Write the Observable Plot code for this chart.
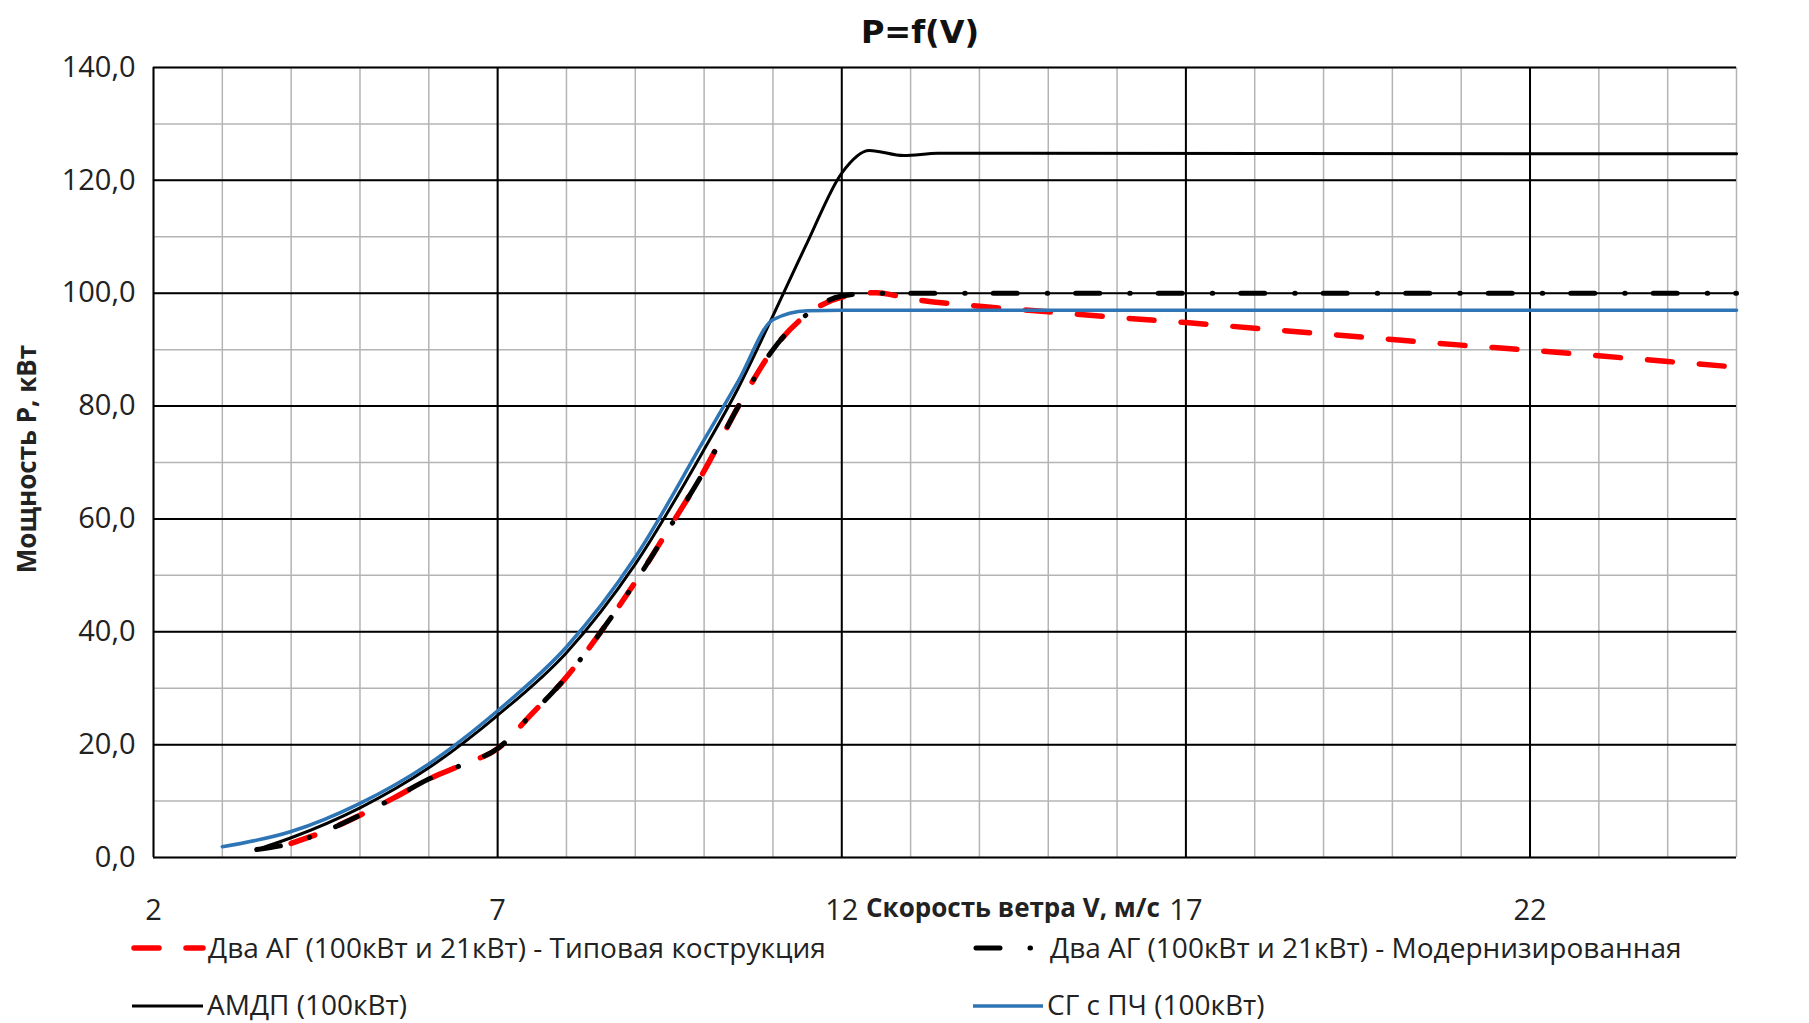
<!DOCTYPE html>
<html>
<head>
<meta charset="utf-8">
<script src="https://cdn.jsdelivr.net/npm/d3@7"></script>
<script src="https://cdn.jsdelivr.net/npm/@observablehq/plot@0.6"></script>
<style>
  html, body { margin: 0; padding: 0; background: #fff; }
  #wrap { position: relative; width: 1809px; height: 1023px; overflow: hidden; background: #fff; }
  #wrap svg.plot { position: absolute; left: 0; top: 0; }
  .abs { position: absolute; white-space: nowrap; color: #222; }
  #title { font-family: "DejaVu Sans", sans-serif; font-weight: bold; font-size: 32px; line-height: 40px; left: 920px; top: 12px; transform: translateX(-50%); color: #111; }
  #xtitle { font-family: "Open Sans", sans-serif; font-weight: bold; font-size: 26px; line-height: 30px; left: 866px; top: 892px; }
  #ytitle { font-family: "Open Sans", sans-serif; font-weight: bold; font-size: 26px; line-height: 30px; left: 26px; top: 459px; transform: translate(-50%, -50%) rotate(-90deg); }
  .leg { font-family: "Open Sans", sans-serif; font-size: 28px; line-height: 30px; }
  .sw { position: absolute; overflow: visible; }
</style>
</head>
<body>
<div id="wrap"></div>
<script>
// ---- data ----
const titleText = "P=f(V)";
const xTitle = "Скорость ветра V, м/с";
const yTitle = "Мощность P, кВт";

const seriesNames = [
  "Два АГ (100кВт и 21кВт) - Типовая кострукция",
  "Два АГ (100кВт и 21кВт) - Модернизированная",
  "АМДП (100кВт)",
  "СГ с ПЧ (100кВт)"
];

const xTickValues = [2, 7, 12, 17, 22];
const yTickValues = [0, 20, 40, 60, 80, 100, 120, 140];
const xMinorValues = [2,3,4,5,6,7,8,9,10,11,12,13,14,15,16,17,18,19,20,21,22,23,24,25];
const yMinorValues = [0,10,20,30,40,50,60,70,80,90,100,110,120,130,140];

// Two AG - typical design (red dashed)
const vTypical = [4,4.5,5,5.5,6,6.5,7,7.5,8,8.5,9,9.5,10,10.5,11,11.5,12,12.5,13,14,15,16,17,18,19,20,21,22,23,24,25];
const pTypical = [2.5,4.7,7.5,10.6,13.9,16.5,19.3,25.5,32,40,48.8,58.5,68.5,80,90,96.3,99.3,100.1,99.0,97.7,96.7,95.7,94.8,93.8,92.8,91.8,90.8,89.9,88.9,87.9,86.9];

// Two AG - modernized (black dash-dot)
const vModern = [3.5,4,4.5,5,5.5,6,6.5,7,7.5,8,8.5,9,9.5,10,10.5,11,11.5,12,12.5,25];
const pModern = [1.4,2.5,4.7,7.5,10.6,13.9,16.5,19.3,25.5,32,40,48.8,58.5,68.5,80,90,96.3,99.5,100,100];

// AMDP (black solid)
const vAmdp = [3.5,4,5,6,7,8,9,10,10.5,11,11.5,12,12.4,12.9,13.4,25];
const pAmdp = [1.4,3.5,8.8,15.9,25.2,36.3,52.0,72.3,83.3,96.0,109.0,121.3,125.3,124.4,124.8,124.7];

// SG with frequency converter (blue)
const vSg = [3,4,5,6,7,8,9,10,10.5,11,11.5,12,25];
const pSg = [1.9,4.6,9.6,16.6,26.0,37.3,53.2,74.0,84.5,95.3,96.9,97.0,97.0];

// ---- styles ----
const styles = [
  {stroke: "#ff0000", strokeWidth: 5.5, strokeDasharray: "25 27", strokeLinecap: "round"},
  {stroke: "#000000", strokeWidth: 5, strokeDasharray: "24 30 0.5 28", strokeLinecap: "round"},
  {stroke: "#000000", strokeWidth: 3},
  {stroke: "#2e75b6", strokeWidth: 3.5}
];

const toRows = (vs, ps, name) => vs.map((v, i) => ({v, p: ps[i], series: name}));
const tables = [
  toRows(vTypical, pTypical, seriesNames[0]),
  toRows(vModern, pModern, seriesNames[1]),
  toRows(vAmdp, pAmdp, seriesNames[2]),
  toRows(vSg, pSg, seriesNames[3])
];

const fmt = d => d.toFixed(1).replace(".", ",");

const chart = Plot.plot({
  width: 1809,
  height: 930,
  marginLeft: 153,
  marginRight: 73,
  marginTop: 67,
  marginBottom: 73,
  style: {fontFamily: "'Open Sans', sans-serif", fontSize: "29px", color: "#222", background: "transparent", overflow: "visible"},
  x: {domain: [2, 25]},
  y: {domain: [0, 140]},
  marks: [
    Plot.gridX(xMinorValues, {stroke: "#b4b4b4", strokeWidth: 1.5, strokeOpacity: 1}),
    Plot.gridY(yMinorValues, {stroke: "#b4b4b4", strokeWidth: 1.5, strokeOpacity: 1}),
    Plot.gridX(xTickValues, {stroke: "#000", strokeWidth: 2, strokeOpacity: 1}),
    Plot.gridY(yTickValues, {stroke: "#000", strokeWidth: 2, strokeOpacity: 1}),
    Plot.axisX(xTickValues, {tickSize: 0, tickPadding: 42, fontSize: 29, label: null, fill: "#222"}),
    Plot.axisY(yTickValues, {tickSize: 0, tickPadding: 18, fontSize: 29, label: null, tickFormat: fmt, fill: "#222"}),
    ...tables.map((t, i) => Plot.line(t, {x: "v", y: "p", curve: "monotone-x", ...styles[i]}))
  ]
});
chart.classList.add("plot");

const wrap = document.getElementById("wrap");
wrap.appendChild(chart);

function addText(id, cls, text) {
  const d = document.createElement("div");
  if (id) d.id = id;
  d.className = "abs " + (cls || "");
  d.textContent = text;
  wrap.appendChild(d);
  return d;
}
addText("title", "", titleText);
addText("xtitle", "", xTitle);
addText("ytitle", "", yTitle);

// ---- legend (HTML below the plot) ----
const legendPos = [
  {sx: 134, sx2: 203, sy: 948, tx: 208, ty: 948},
  {sx: 975.5, sx2: 1030, sy: 948, tx: 1050, ty: 948},
  {sx: 132, sx2: 203, sy: 1006, tx: 207, ty: 1005},
  {sx: 973, sx2: 1043, sy: 1006, tx: 1047, ty: 1005}
];
const NS = "http://www.w3.org/2000/svg";
seriesNames.forEach((name, i) => {
  const p = legendPos[i];
  const s = styles[i];
  const svg = document.createElementNS(NS, "svg");
  svg.setAttribute("class", "sw");
  svg.setAttribute("width", p.sx2 - p.sx + 10);
  svg.setAttribute("height", 20);
  svg.style.left = (p.sx - 5) + "px";
  svg.style.top = (p.sy - 10) + "px";
  const ln = document.createElementNS(NS, "line");
  ln.setAttribute("x1", 5);
  ln.setAttribute("x2", p.sx2 - p.sx + 5);
  ln.setAttribute("y1", 10);
  ln.setAttribute("y2", 10);
  ln.setAttribute("stroke", s.stroke);
  ln.setAttribute("stroke-width", s.strokeWidth);
  if (s.strokeDasharray) ln.setAttribute("stroke-dasharray", s.strokeDasharray);
  if (s.strokeLinecap) ln.setAttribute("stroke-linecap", s.strokeLinecap);
  svg.appendChild(ln);
  wrap.appendChild(svg);
  const t = addText(null, "leg", name);
  t.style.left = p.tx + "px";
  t.style.top = (p.ty - 16) + "px";
});
</script>
</body>
</html>
